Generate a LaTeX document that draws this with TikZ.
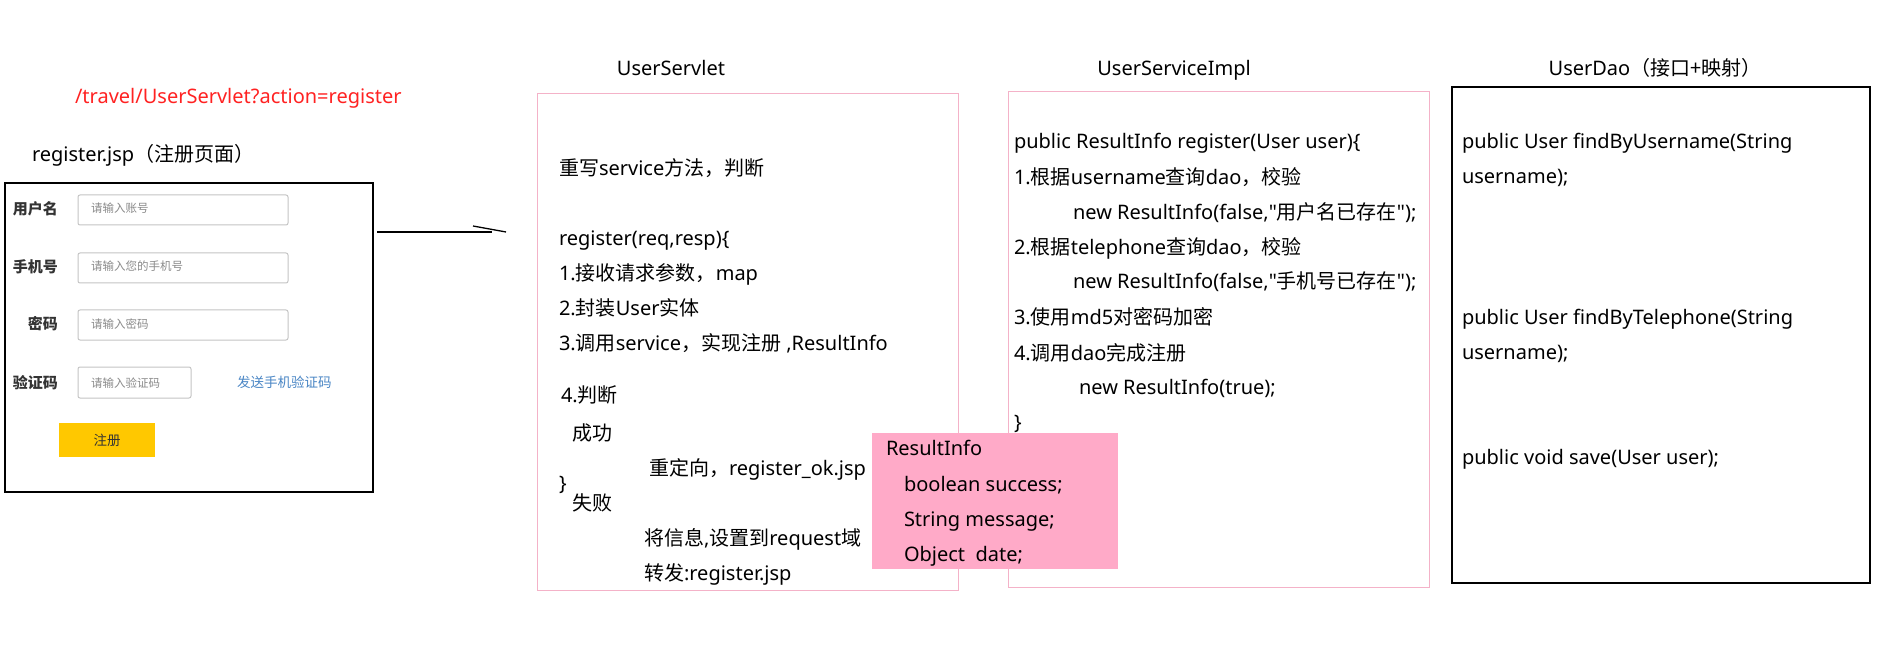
\documentclass[tikz,border=0pt]{standalone}
\usepackage{fontspec}
\setmainfont{Noto Sans}
\newfontfamily\zh{Noto Sans CJK SC}
\newfontfamily\lat{Noto Sans}
\newcommand\z[1]{{\zh #1}}
\newcommand\dq{{\lat "}}
\newcommand\fs{\fontsize{20}{24}\selectfont}
\definecolor{pinkline}{HTML}{F4B2C8}
\definecolor{pinkfill}{HTML}{FFAAC8}
\definecolor{redtxt}{HTML}{FF2222}
\definecolor{bluetxt}{HTML}{4A86C5}
\definecolor{btn}{HTML}{FFC800}
\definecolor{fieldline}{HTML}{C4C4C4}
\definecolor{ph}{HTML}{8A8A8A}
\definecolor{lbl}{HTML}{333333}
\tikzset{
  txt/.style={inner sep=0pt, outer sep=0pt, anchor=base west, font=\fs},
  ttl/.style={inner sep=0pt, outer sep=0pt, anchor=base, font=\fs},
  pinkbox/.style={draw=pinkline, line width=1pt, inner sep=0pt, outer sep=0pt, anchor=north west},
  blackbox/.style={draw=black, line width=1.3pt, inner sep=0pt, outer sep=0pt, anchor=north west},
  field/.style={draw=fieldline, line width=1pt, rounded corners=2pt, inner sep=0pt, outer sep=0pt, anchor=north west, minimum height=30pt},
  flabel/.style={inner sep=0pt, anchor=base east, font=\fontsize{15}{18}\selectfont\bfseries\zh, text=lbl},
  phtxt/.style={inner sep=0pt, anchor=base west, font=\fontsize{11.5}{14}\selectfont\zh, text=ph},
  conn/.style={draw=black, line width=1.3pt}
}
\begin{document}
\begin{tikzpicture}[x=1pt, y=-1pt]
\useasboundingbox (0,0) rectangle (1882,652);
\fill[white] (0,0) rectangle (1882,652);

% ---- register page ----
\node[txt, text=redtxt] (url) at (75,104) {/travel/UserServlet?action=register};
\node[txt] (regt) at (32,162) {register.jsp\z{（注册页面）}};
\node[blackbox, minimum width=368pt, minimum height=309pt] (reg) at (5,183) {};

\node[flabel] (l1) at (58,214.5) {用户名};
\node[flabel] (l2) at (58,272.5) {手机号};
\node[flabel] (l3) at (58,330) {密码};
\node[flabel] (l4) at (58,388) {验证码};

\node[field, minimum width=210pt] (f1) at (78,195) {};
\node[field, minimum width=210pt] (f2) at (78,253) {};
\node[field, minimum width=210pt] (f3) at (78,310) {};
\node[field, minimum width=113pt, minimum height=31pt] (f4) at (78,367) {};
\node[phtxt] (p1) at (91,213) {请输入账号};
\node[phtxt] (p2) at (91,271) {请输入您的手机号};
\node[phtxt] (p3) at (91,329) {请输入密码};
\node[phtxt] (p4) at (91,387) {请输入验证码};
\node[inner sep=0pt, anchor=base west, font=\fontsize{13.5}{16}\selectfont\zh, text=bluetxt] (sms) at (237,387) {发送手机验证码};
\node[fill=btn, inner sep=0pt, minimum width=96pt, minimum height=34pt, anchor=north west,
      font=\fontsize{13.5}{16}\selectfont\zh, text=lbl] (btn) at (59,423) {注册};

% ---- connector ----
\coordinate (a1) at (492,232);
\coordinate (a2) at (506,232);
\draw[conn] (reg.east |- a1) ++(4,0) -- (a1);
\draw[conn] (a2) -- ++(-33,-6);

% ---- UserServlet ----
\node[ttl] (t1) at (671,76) {UserServlet};
\node[pinkbox, minimum width=421pt, minimum height=496pt] (servlet) at (537,94) {};
\node[txt] (s1) at (559,176) {\z{重写}service\z{方法，判断}};
\node[txt] (s2) at (559,246) {register(req,resp)\{};
\node[txt] (s3) at (559,281) {1.\z{接收请求参数，}map};
\node[txt] (s4) at (559,316) {2.\z{封装}User\z{实体}};
\node[txt] (s5) at (559,350) {3.\z{调用}service\z{，实现注册} ,ResultInfo};
\node[txt] (s6) at (561,402) {4.\z{判断}};
\node[txt] (s7) at (572,440) {\z{成功}};
\node[txt] (s8) at (649,475) {\z{重定向，}register\_ok.jsp};
\node[txt] (s9) at (559,490) {\}};
\node[txt] (s10) at (572,510) {\z{失败}};
\node[txt] (s11) at (644,545) {\z{将信息},\z{设置到}request\z{域}};
\node[txt] (s12) at (644,580) {\z{转发}:register.jsp};

% ---- UserServiceImpl ----
\node[ttl] (t2) at (1174,76) {UserServiceImpl};
\node[pinkbox, minimum width=421pt, minimum height=495pt] (impl) at (1008,92) {};
\node[txt] (i1) at (1014,149) {public ResultInfo register(User user)\{};
\node[txt] (i2) at (1014,185) {1.\z{根据}username\z{查询}dao\z{，校验}};
\node[txt] (i3) at (1073,220) {new ResultInfo(false,\dq\z{用户名已存在}\dq);};
\node[txt] (i4) at (1014,255) {2.\z{根据}telephone\z{查询}dao\z{，校验}};
\node[txt] (i5) at (1073,289) {new ResultInfo(false,\dq\z{手机号已存在}\dq);};
\node[txt] (i6) at (1014,324) {3.\z{使用}md5\z{对密码加密}};
\node[txt] (i7) at (1014,360) {4.\z{调用}dao\z{完成注册}};
\node[txt] (i8) at (1079,394) {new ResultInfo(true);};
\node[txt] (i9) at (1014,429) {\}};

% ---- ResultInfo ----
\node[fill=pinkfill, inner sep=0pt, outer sep=0pt, anchor=north west, minimum width=246pt, minimum height=136pt] (res) at (872,433) {};
\node[txt] (r1) at (886,455) {ResultInfo};
\node[txt] (r2) at (904,491) {boolean success;};
\node[txt] (r3) at (904,526) {String message;};
\node[txt] (r4) at (904,561) {Object\ \ date;};

% ---- UserDao ----
\node[ttl] (t3) at (1655,76) {UserDao\z{（接口+映射）}};
\node[blackbox, minimum width=418pt, minimum height=496pt] (dao) at (1452,87) {};
\node[txt] (d1) at (1462,149) {public User findByUsername(String};
\node[txt] (d2) at (1462,184) {username);};
\node[txt] (d3) at (1462,324) {public User findByTelephone(String};
\node[txt] (d4) at (1462,359) {username);};
\node[txt] (d5) at (1462,464) {public void save(User user);};
\end{tikzpicture}
\end{document}
